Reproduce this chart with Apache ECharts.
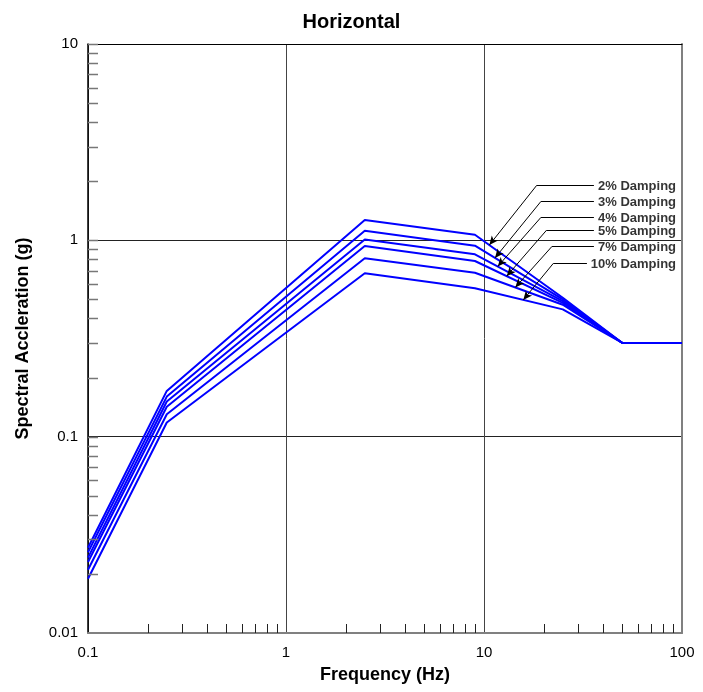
<!DOCTYPE html>
<html>
<head>
<meta charset="utf-8">
<script src="https://cdn.jsdelivr.net/npm/echarts@6/dist/echarts.min.js"></script>
<style>
  html, body { margin: 0; padding: 0; background: #fff; }
  #chart { width: 703px; height: 692px; }
</style>
</head>
<body>
<div id="chart"></div>
<script>
// Response spectra, horizontal component
const freqHz = [0.1, 0.25, 2.5, 9, 25, 50, 100];
const damping2 = [0.0272, 0.171, 1.27, 1.068, 0.51, 0.30, 0.30];
const damping3 = [0.0258, 0.160, 1.12, 0.939, 0.50, 0.30, 0.30];
const damping4 = [0.0242, 0.151, 1.01, 0.849, 0.49, 0.30, 0.30];
const damping5 = [0.0230, 0.142, 0.935, 0.785, 0.48, 0.30, 0.30];
const damping7 = [0.0210, 0.130, 0.81, 0.684, 0.47, 0.30, 0.30];
const damping10 = [0.0189, 0.118, 0.68, 0.57, 0.445, 0.30, 0.30];
const dampingLabels = ['2% Damping', '3% Damping', '4% Damping', '5% Damping', '7% Damping', '10% Damping'];
const spectra = [damping2, damping3, damping4, damping5, damping7, damping10];

// Leader lines: arrow tip on each curve, elbow, and horizontal run to the label
const arrowTipHz = [10.64, 11.36, 11.73, 13.02, 14.39, 15.79];
const elbowHz = [18.46, 19.41, 19.41, 20.73, 21.98, 22.39];
const labelLevelG = [1.906, 1.580, 1.310, 1.128, 0.928, 0.763];
const labelStartHz = [35.9, 35.9, 35.9, 35.9, 35.9, 33.1];
const labelEndHz = 93.3;

// Tick values
const xTickLabels = [0.1, 1, 10, 100];
const yTickLabels = [0.01, 0.1, 1, 10];
const xMinorTicks = [0.2, 0.3, 0.4, 0.5, 0.6, 0.7, 0.8, 0.9, 2, 3, 4, 5, 6, 7, 8, 9, 20, 30, 40, 50, 60, 70, 80, 90];
const yMinorTicks = [0.02, 0.03, 0.04, 0.05, 0.06, 0.07, 0.08, 0.09, 0.1,
  0.2, 0.3, 0.4, 0.5, 0.6, 0.7, 0.8, 0.9, 1, 2, 3, 4, 5, 6, 7, 8, 9, 10];

const FONT = '"Liberation Sans", Arial, sans-serif';

// log-log interpolation along a spectrum
function spectrumAt(vals, f) {
  for (let i = 0; i < freqHz.length - 1; i++) {
    if (f >= freqHz[i] && f <= freqHz[i + 1]) {
      const t = (Math.log10(f) - Math.log10(freqHz[i])) / (Math.log10(freqHz[i + 1]) - Math.log10(freqHz[i]));
      return Math.pow(10, Math.log10(vals[i]) + t * (Math.log10(vals[i + 1]) - Math.log10(vals[i])));
    }
  }
  return vals[vals.length - 1];
}

const curveSeries = spectra.map((vals, i) => ({
  name: dampingLabels[i],
  type: 'line',
  data: freqHz.map((f, j) => [f, vals[j]]),
  symbol: 'none',
  lineStyle: { color: '#0000ff', width: 2 },
  z: 3,
  silent: true,
  animation: false
}));

const leaderData = [];
spectra.forEach((vals, i) => {
  leaderData.push([
    { coord: [labelStartHz[i], labelLevelG[i]], symbol: 'none' },
    { coord: [elbowHz[i], labelLevelG[i]], symbol: 'none' }
  ]);
  leaderData.push([
    { coord: [elbowHz[i], labelLevelG[i]], symbol: 'none' },
    { coord: [arrowTipHz[i], spectrumAt(vals, arrowTipHz[i])], symbol: 'arrow' }
  ]);
});

const option = {
  backgroundColor: '#fff',
  animation: false,
  title: {
    text: 'Horizontal',
    left: 'center',
    top: 7,
    textStyle: { fontFamily: FONT, fontSize: 20, fontWeight: 'bold', color: '#000' }
  },
  grid: { left: 88, right: 21, top: 44, bottom: 59, containLabel: false },
  xAxis: [{
    type: 'log', logBase: 10, min: 0.1, max: 100,
    name: 'Frequency (Hz)', nameLocation: 'middle', nameGap: 33,
    nameTextStyle: { fontFamily: FONT, fontSize: 18, fontWeight: 'bold', color: '#000' },
    axisLine: { show: true, lineStyle: { color: '#808080', width: 2 } },
    axisTick: { show: false },
    axisLabel: {
      fontFamily: FONT, fontSize: 15, color: '#000', margin: 12,
      formatter: v => (xTickLabels.some(t => Math.abs(t - v) < 1e-9) ? String(v) : '')
    },
    splitLine: { show: true, lineStyle: { color: '#444', width: 1 } },
    minorTick: { show: false }, minorSplitLine: { show: false }
  }, {
    type: 'log', logBase: 10, min: 0.1, max: 100, position: 'top',
    axisLine: { show: true, lineStyle: { color: '#000', width: 1 } },
    axisTick: { show: false }, axisLabel: { show: false }, splitLine: { show: false }
  }],
  yAxis: [{
    type: 'log', logBase: 10, min: 0.01, max: 10,
    name: 'Spectral Accleration (g)', nameLocation: 'middle', nameGap: 56,
    nameTextStyle: { fontFamily: FONT, fontSize: 18, fontWeight: 'bold', color: '#000' },
    axisLine: { show: true, lineStyle: { color: '#000', width: 1.5 } },
    axisTick: { show: false },
    axisLabel: {
      fontFamily: FONT, fontSize: 15, color: '#000', margin: 10,
      formatter: v => (yTickLabels.some(t => Math.abs(t - v) < 1e-9) ? String(v) : '')
    },
    splitLine: { show: true, lineStyle: { color: '#222', width: 1 } },
    minorTick: { show: false }, minorSplitLine: { show: false }
  }, {
    type: 'log', logBase: 10, min: 0.01, max: 10, position: 'right',
    axisLine: { show: true, lineStyle: { color: '#808080', width: 2 } },
    axisTick: { show: false }, axisLabel: { show: false }, splitLine: { show: false }
  }],
  series: [
    // inner ticks on the frequency axis
    {
      type: 'custom', silent: true, clip: false, z: 4,
      data: xMinorTicks.map(f => [f, 0.01]),
      renderItem: (params, api) => {
        const p = api.coord([api.value(0), api.value(1)]);
        const x = Math.round(p[0]) + 0.5;
        return { type: 'line', shape: { x1: x, y1: p[1], x2: x, y2: p[1] - 9 },
          style: { stroke: '#222', lineWidth: 1 } };
      }
    },
    // inner ticks on the acceleration axis
    {
      type: 'custom', silent: true, clip: false, z: 4,
      data: yMinorTicks.map(v => [0.1, v]),
      renderItem: (params, api) => {
        const p = api.coord([api.value(0), api.value(1)]);
        const y = Math.round(p[1]) + 0.5;
        return { type: 'line', shape: { x1: p[0], y1: y, x2: p[0] + 10, y2: y },
          style: { stroke: '#777', lineWidth: 1.5 } };
      }
    },
    ...curveSeries,
    // leader lines with arrowheads
    {
      type: 'line', data: [], silent: true, z: 5,
      markLine: {
        silent: true, animation: false,
        symbolSize: [6, 9],
        label: { show: false },
        emphasis: { disabled: true },
        lineStyle: { color: '#000', width: 1, type: 'solid' },
        data: leaderData
      }
    },
    // damping labels
    {
      type: 'scatter', silent: true, z: 6,
      symbolSize: 0,
      data: dampingLabels.map((name, i) => ({ value: [labelEndHz, labelLevelG[i]], name })),
      label: {
        show: true, position: 'left', distance: 0, offset: [0, 1],
        formatter: p => p.name,
        fontFamily: FONT, fontSize: 13, fontWeight: 'bold', color: '#000'
      }
    }
  ]
};

const chart = echarts.init(document.getElementById('chart'), null, { renderer: 'canvas' });
chart.setOption(option);
</script>
</body>
</html>
